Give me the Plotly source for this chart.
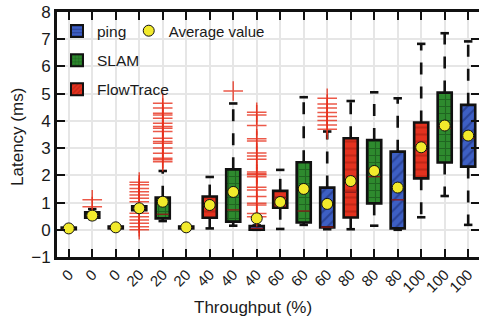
import plotly.graph_objects as go

# ---------------- data ----------------
throughput_groups = [0, 20, 40, 60, 80, 100]
series_names = ["FlowTrace", "SLAM", "ping"]   # order of boxes inside each group
x_tick_labels = ["0", "0", "0", "20", "20", "20", "40", "40", "40",
                 "60", "60", "60", "80", "80", "80", "100", "100", "100"]
y_tick_vals = [-1, 0, 1, 2, 3, 4, 5, 6, 7, 8]
y_tick_text = ["\u22121", "0", "1", "2", "3", "4", "5", "6", "7", "8"]

# FlowTrace
ft_low = [0.02, 0.68, 0.05, 0.03, 0.02, 0.46]
ft_q1 = [0.02, 0.72, 0.44, 0.81, 0.45, 1.89]
ft_med = [0.04, 0.78, 0.90, 1.19, 1.38, 2.91]
ft_q3 = [0.08, 0.86, 1.22, 1.43, 3.36, 3.94]
ft_high = [0.09, 0.90, 1.94, 2.20, 4.73, 6.83]
ft_mean = [0.05, 0.79, 0.91, 1.02, 1.79, 3.03]
ft_out = [[], [0.0, 0.11, 0.24, 0.36, 0.48, 0.61, 1.03, 1.16, 1.28, 1.40, 1.52, 1.65, 1.75],
          [], [], [], []]

# SLAM
sl_low = [0.40, 0.32, 0.15, 0.18, 0.15, 1.24]
sl_q1 = [0.44, 0.42, 0.30, 0.27, 0.97, 2.47]
sl_med = [0.52, 0.57, 0.73, 0.69, 1.95, 3.73]
sl_q3 = [0.64, 1.18, 2.22, 2.48, 3.30, 5.04]
sl_high = [0.76, 2.16, 4.64, 4.87, 5.05, 7.22]
sl_mean = [0.52, 1.03, 1.39, 1.50, 2.16, 3.83]
sl_out = [[0.85, 1.10],
          [2.50, 2.57, 2.63, 2.81, 3.00, 3.18, 3.24, 3.36, 3.61, 3.73, 3.79, 3.91, 4.10, 4.22, 4.28, 4.47, 4.65],
          [5.10], [], [], []]

# ping
pg_low = [0.03, 0.03, 0.00, 0.02, 0.00, 0.18]
pg_q1 = [0.05, 0.05, 0.00, 0.09, 0.05, 2.32]
pg_med = [0.08, 0.08, 0.05, 0.10, 1.10, 3.36]
pg_q3 = [0.12, 0.12, 0.14, 1.55, 2.87, 4.59]
pg_high = [0.14, 0.14, 0.16, 3.61, 4.83, 6.92]
pg_mean = [0.09, 0.09, 0.42, 0.95, 1.55, 3.46]
pg_out = [[], [],
          [0.48, 0.60, 0.91, 0.97, 1.22, 1.46, 1.56, 1.95, 2.02, 2.06, 2.12, 2.59, 2.71, 2.82, 3.26, 3.34, 3.83, 4.22, 4.32],
          [3.69, 3.85, 4.01, 4.16, 4.31, 4.47, 4.62, 4.83], [], []]

# ---------------- styles ----------------
FONT = "Liberation Sans, Arial, sans-serif"
styles = {
    "FlowTrace": dict(bg="#e4321f", fg="#a11d10", box_shape="-", leg_shape="/"),
    "SLAM": dict(bg="#2e8a2e", fg="#123f14", box_shape="+", leg_shape="+"),
    "ping": dict(bg="#3d5fc4", fg="#17286a", box_shape="/", leg_shape="-"),
}
stats = {
    "FlowTrace": (ft_low, ft_q1, ft_med, ft_q3, ft_high, ft_mean, ft_out),
    "SLAM": (sl_low, sl_q1, sl_med, sl_q3, sl_high, sl_mean, sl_out),
    "ping": (pg_low, pg_q1, pg_med, pg_q3, pg_high, pg_mean, pg_out),
}

BOX_W = 0.6
CAP_W = 0.36

fig = go.Figure()

mean_x, mean_y = [], []
for s, name in enumerate(series_names):
    low, q1, med, q3, high, mean, outl = stats[name]
    st = styles[name]
    xs = [g * 3 + s for g in range(len(throughput_groups))]
    # boxes
    fig.add_trace(go.Bar(
        x=xs, base=q1, y=[b - a for a, b in zip(q1, q3)], width=BOX_W,
        marker=dict(color=st["bg"],
                    pattern=dict(shape=st["box_shape"], fgcolor=st["fg"], bgcolor=st["bg"],
                                 size=7, solidity=0.3),
                    line=dict(color="#111111", width=2.6)),
        showlegend=False, hoverinfo="skip"))
    # whiskers (dashed), caps, medians
    wx, wy = [], []
    cx, cy = [], []
    mx, my = [], []
    for x, lo, a, m, b, hi in zip(xs, low, q1, med, q3, high):
        wx += [x, x, None, x, x, None]
        wy += [b, hi, None, a, lo, None]
        cx += [x - CAP_W / 2, x + CAP_W / 2, None, x - CAP_W / 2, x + CAP_W / 2, None]
        cy += [hi, hi, None, lo, lo, None]
        mx += [x - BOX_W / 2 + 0.04, x + BOX_W / 2 - 0.04, None]
        my += [m, m, None]
    fig.add_trace(go.Scatter(x=wx, y=wy, mode="lines",
                             line=dict(color="#111111", width=2.6, dash="12px,12px"),
                             showlegend=False, hoverinfo="skip"))
    fig.add_trace(go.Scatter(x=cx, y=cy, mode="lines",
                             line=dict(color="#111111", width=2.6),
                             showlegend=False, hoverinfo="skip"))
    fig.add_trace(go.Scatter(x=mx, y=my, mode="lines",
                             line=dict(color="#8b1a1a", width=1.3),
                             showlegend=False, hoverinfo="skip"))
    # outliers
    ox, oy = [], []
    for x, vals in zip(xs, outl):
        ox += [x] * len(vals)
        oy += vals
    if ox:
        fig.add_trace(go.Scatter(x=ox, y=oy, mode="markers",
                                 marker=dict(symbol="cross-thin", size=14, opacity=0.8,
                                             line=dict(color="#e8301c", width=1.5)),
                                 showlegend=False, hoverinfo="skip"))
    mean_x += xs
    mean_y += mean

# averages
fig.add_trace(go.Scatter(x=mean_x, y=mean_y, mode="markers", name="Average value",
                         marker=dict(symbol="circle", size=11, color="#f2ea2c",
                                     line=dict(color="#111111", width=1)),
                         legend="legend2", hoverinfo="skip"))

# legend entries (legend icons as in reference)
for i, name in enumerate(["ping", "SLAM", "FlowTrace"]):
    st = styles[name]
    fig.add_trace(go.Bar(x=[None], y=[None], name=name, legendgroup=name,
                         marker=dict(color=st["bg"],
                                     pattern=dict(shape=st["leg_shape"], fgcolor=st["fg"],
                                                  bgcolor=st["bg"], size=4, solidity=0.4),
                                     line=dict(color="#111111", width=2)),
                         legend="legend"))

# right-side tick marks
fig.add_trace(go.Scatter(x=[None], y=[None], yaxis="y2", showlegend=False, hoverinfo="skip"))

fig.update_layout(
    width=479, height=323,
    margin=dict(l=57, r=0, t=12, b=66),
    paper_bgcolor="white", plot_bgcolor="white",
    font=dict(family=FONT, size=15, color="#1a1a1a"),
    barmode="overlay",
    xaxis=dict(range=[-0.5, 17.46], tickmode="array",
               tickvals=list(range(len(x_tick_labels))), ticktext=x_tick_labels,
               tickangle=-45, ticks="inside", ticklen=8, tickwidth=2, tickcolor="#111111",
               showline=True, linewidth=3, linecolor="#111111", mirror="ticks",
               showgrid=True, gridcolor="#e6e6e6", gridwidth=1.5, zeroline=False,
               tickfont=dict(size=15)),
    yaxis=dict(range=[-1, 8], tickmode="array", tickvals=y_tick_vals, ticktext=y_tick_text,
               ticks="inside", ticklen=8, tickwidth=2, tickcolor="#111111",
               showline=True, linewidth=3, linecolor="#111111", mirror=False,
               showgrid=True, gridcolor="#e6e6e6", gridwidth=1.5, zeroline=False,
               tickfont=dict(size=17)),
    yaxis2=dict(range=[-1, 8], overlaying="y", side="right", tickmode="array",
                tickvals=y_tick_vals, ticks="inside", ticklen=8, tickwidth=2,
                tickcolor="#111111", showticklabels=False, showgrid=False,
                showline=False, zeroline=False),
    legend=dict(x=0.0, y=0.99, xanchor="left", yanchor="top", bgcolor="rgba(0,0,0,0)",
                font=dict(size=15.5), tracegroupgap=6, traceorder="grouped"),
    legend2=dict(x=0.17, y=0.99, xanchor="left", yanchor="top", bgcolor="rgba(0,0,0,0)",
                 font=dict(size=15)),
    annotations=[
        dict(text="Throughput (%)", xref="paper", yref="paper", x=0.4645, y=-0.208,
             xanchor="center", yanchor="middle", showarrow=False, font=dict(size=17)),
        dict(text="Latency (ms)", xref="paper", yref="paper", x=-0.0924, y=0.49,
             xanchor="center", yanchor="middle", textangle=-90, showarrow=False,
             font=dict(size=17)),
    ],
)

fig.write_html("out.html")
